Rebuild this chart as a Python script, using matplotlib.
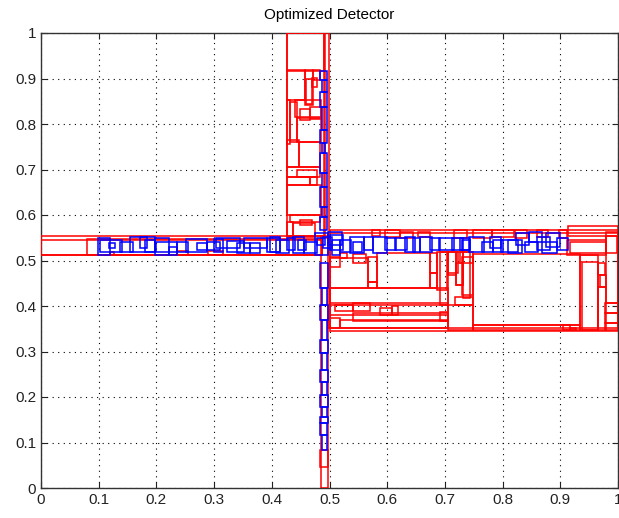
import matplotlib
matplotlib.use("Agg")
import matplotlib.pyplot as plt
from matplotlib.patches import Rectangle

plt.rcParams["font.family"] = ["Liberation Sans", "DejaVu Sans"]

# Detector cells as (x0, y0, x1, y1) in unit-square coordinates.

# Horizontal arm, red cells
band_red = [
    (0.000, 0.512, 0.487, 0.554),
    (0.000, 0.512, 0.487, 0.546),
    (0.080, 0.512, 0.487, 0.548),
    (0.120, 0.511, 0.127, 0.518),
    (0.235, 0.511, 0.255, 0.521),
    (0.289, 0.511, 0.315, 0.521),
]

# Horizontal arm, blue cells
band_blue = [
    (0.099, 0.512, 0.120, 0.549), (0.102, 0.519, 0.140, 0.545),
    (0.117, 0.527, 0.128, 0.538), (0.137, 0.518, 0.160, 0.541),
    (0.154, 0.518, 0.198, 0.552), (0.172, 0.527, 0.183, 0.552),
    (0.180, 0.519, 0.198, 0.545), (0.198, 0.511, 0.221, 0.550),
    (0.200, 0.518, 0.235, 0.541), (0.221, 0.512, 0.235, 0.530),
    (0.235, 0.519, 0.255, 0.541), (0.252, 0.518, 0.287, 0.547),
    (0.270, 0.523, 0.287, 0.538), (0.287, 0.523, 0.310, 0.541),
    (0.299, 0.519, 0.316, 0.547), (0.304, 0.527, 0.345, 0.549),
    (0.322, 0.518, 0.351, 0.543), (0.339, 0.516, 0.362, 0.538),
    (0.351, 0.527, 0.391, 0.549), (0.362, 0.516, 0.380, 0.538),
    (0.391, 0.518, 0.414, 0.549), (0.397, 0.519, 0.414, 0.552),
    (0.408, 0.516, 0.429, 0.545), (0.426, 0.523, 0.440, 0.549),
    (0.437, 0.516, 0.455, 0.552), (0.446, 0.523, 0.460, 0.545),
    (0.455, 0.516, 0.478, 0.541), (0.475, 0.512, 0.498, 0.560),
    (0.478, 0.534, 0.492, 0.549), (0.489, 0.527, 0.504, 0.552),
    (0.498, 0.534, 0.521, 0.563), (0.504, 0.512, 0.518, 0.545),
    (0.501, 0.523, 0.524, 0.556), (0.518, 0.519, 0.538, 0.545),
    (0.536, 0.516, 0.559, 0.552), (0.541, 0.519, 0.556, 0.541),
    (0.559, 0.523, 0.576, 0.552), (0.576, 0.516, 0.599, 0.552),
    (0.596, 0.523, 0.616, 0.549), (0.614, 0.523, 0.634, 0.549),
    (0.631, 0.519, 0.648, 0.552), (0.645, 0.519, 0.657, 0.549),
    (0.657, 0.519, 0.677, 0.552), (0.674, 0.523, 0.692, 0.549),
    (0.689, 0.523, 0.715, 0.549), (0.712, 0.523, 0.732, 0.549),
    (0.729, 0.523, 0.743, 0.545), (0.726, 0.523, 0.743, 0.549),
    (0.741, 0.519, 0.767, 0.552), (0.764, 0.519, 0.784, 0.541),
    (0.778, 0.527, 0.798, 0.552), (0.784, 0.519, 0.801, 0.545),
    (0.798, 0.519, 0.827, 0.545), (0.810, 0.516, 0.833, 0.545),
    (0.824, 0.534, 0.845, 0.560), (0.839, 0.519, 0.862, 0.541),
    (0.845, 0.541, 0.868, 0.563), (0.859, 0.523, 0.882, 0.552),
    (0.868, 0.516, 0.894, 0.541), (0.876, 0.530, 0.899, 0.560),
    (0.894, 0.523, 0.914, 0.549),
]

# Vertical arm, red cells
stem_red = [
    (0.426, 0.554, 0.490, 1.000),
    (0.492, 0.550, 0.499, 1.000),
    (0.486, 0.000, 0.498, 0.554),
    (0.426, 0.916, 0.490, 1.000),
    (0.427, 0.853, 0.458, 0.919),
    (0.458, 0.842, 0.472, 0.919),
    (0.460, 0.845, 0.469, 0.900),
    (0.469, 0.881, 0.478, 0.901),
    (0.472, 0.897, 0.484, 0.919),
    (0.427, 0.757, 0.432, 0.853),
    (0.432, 0.761, 0.443, 0.849),
    (0.440, 0.816, 0.486, 0.853),
    (0.449, 0.809, 0.466, 0.834),
    (0.466, 0.812, 0.486, 0.838),
    (0.443, 0.761, 0.486, 0.813),
    (0.427, 0.706, 0.448, 0.765),
    (0.448, 0.706, 0.484, 0.761),
    (0.427, 0.684, 0.484, 0.706),
    (0.443, 0.684, 0.478, 0.699),
    (0.427, 0.666, 0.466, 0.684),
    (0.466, 0.666, 0.478, 0.683),
    (0.427, 0.600, 0.486, 0.666),
    (0.432, 0.585, 0.484, 0.600),
    (0.427, 0.552, 0.437, 0.585),
    (0.437, 0.552, 0.475, 0.582),
    (0.449, 0.578, 0.470, 0.589),
    (0.484, 0.047, 0.498, 0.084),
]

# Vertical arm, blue cells
stem_blue = [
    (0.484, 0.897, 0.495, 0.917), (0.487, 0.871, 0.495, 0.897),
    (0.484, 0.838, 0.495, 0.871), (0.487, 0.787, 0.495, 0.838),
    (0.484, 0.758, 0.495, 0.787), (0.487, 0.736, 0.493, 0.758),
    (0.484, 0.692, 0.495, 0.736), (0.487, 0.662, 0.495, 0.692),
    (0.484, 0.618, 0.495, 0.662), (0.487, 0.596, 0.495, 0.618),
    (0.484, 0.567, 0.495, 0.596),
    (0.484, 0.439, 0.497, 0.494), (0.487, 0.402, 0.495, 0.439),
    (0.484, 0.369, 0.497, 0.402), (0.487, 0.325, 0.495, 0.369),
    (0.484, 0.296, 0.497, 0.325), (0.487, 0.259, 0.495, 0.296),
    (0.484, 0.234, 0.497, 0.259), (0.487, 0.204, 0.495, 0.234),
    (0.484, 0.179, 0.497, 0.204), (0.487, 0.157, 0.495, 0.179),
    (0.484, 0.142, 0.497, 0.157), (0.484, 0.116, 0.495, 0.142),
    (0.487, 0.084, 0.495, 0.116),
]

# Right block, red cells
right_red = [
    (0.501, 0.345, 1.000, 0.567),
    (0.501, 0.352, 1.000, 0.560),
    (0.913, 0.554, 1.000, 0.575),
    (0.573, 0.554, 0.588, 0.567),
    (0.596, 0.552, 0.622, 0.567),
    (0.622, 0.549, 0.645, 0.563),
    (0.654, 0.551, 0.674, 0.563),
    (0.715, 0.549, 0.738, 0.567),
    (0.749, 0.549, 0.781, 0.567),
    (0.781, 0.552, 0.819, 0.567),
    (0.822, 0.549, 0.842, 0.567),
    (0.859, 0.552, 0.879, 0.567),
    (0.897, 0.549, 0.911, 0.567),
    (0.917, 0.516, 0.980, 0.541),
    (0.980, 0.516, 0.998, 0.554),
    (0.911, 0.512, 0.980, 0.545),
    (0.501, 0.486, 0.518, 0.508),
    (0.518, 0.505, 0.530, 0.516),
    (0.541, 0.494, 0.564, 0.514),
    (0.501, 0.439, 0.567, 0.505),
    (0.567, 0.453, 0.582, 0.508),
    (0.567, 0.439, 0.582, 0.453),
    (0.583, 0.439, 0.674, 0.516),
    (0.674, 0.472, 0.686, 0.516),
    (0.674, 0.439, 0.686, 0.472),
    (0.686, 0.435, 0.703, 0.519),
    (0.706, 0.468, 0.720, 0.519),
    (0.720, 0.446, 0.732, 0.519),
    (0.732, 0.417, 0.743, 0.519),
    (0.501, 0.402, 0.706, 0.439),
    (0.501, 0.380, 0.706, 0.406),
    (0.510, 0.388, 0.541, 0.402),
    (0.541, 0.388, 0.570, 0.406),
    (0.588, 0.380, 0.608, 0.395),
    (0.608, 0.380, 0.619, 0.399),
    (0.541, 0.366, 0.706, 0.384),
    (0.518, 0.351, 0.706, 0.369),
    (0.498, 0.351, 0.518, 0.373),
    (0.749, 0.358, 0.934, 0.514),
    (0.749, 0.347, 0.934, 0.358),
    (0.905, 0.347, 0.917, 0.358),
    (0.917, 0.347, 0.928, 0.352),
    (0.934, 0.347, 0.966, 0.512),
    (0.937, 0.347, 0.966, 0.497),
    (0.966, 0.468, 0.977, 0.494),
    (0.968, 0.442, 0.979, 0.468),
    (0.966, 0.347, 0.980, 0.442),
    (0.980, 0.406, 1.000, 0.563),
    (0.977, 0.384, 1.000, 0.406),
    (0.977, 0.362, 1.000, 0.384),
    (0.977, 0.347, 1.000, 0.362),
    (0.692, 0.402, 0.706, 0.519),
    (0.706, 0.472, 0.723, 0.519),
    (0.720, 0.446, 0.732, 0.494),
    (0.729, 0.424, 0.749, 0.508),
    (0.718, 0.402, 0.749, 0.420),
    (0.726, 0.494, 0.749, 0.519),
    (0.706, 0.347, 0.749, 0.402),
    (0.692, 0.366, 0.706, 0.387),
]

ticks = [0, 0.1, 0.2, 0.3, 0.4, 0.5, 0.6, 0.7, 0.8, 0.9, 1]
tick_labels = ["0", "0.1", "0.2", "0.3", "0.4", "0.5", "0.6", "0.7", "0.8", "0.9", "1"]

fig = plt.figure(figsize=(6.19, 5.18), dpi=100)
ax = fig.add_axes([41 / 619, 30 / 518, 577 / 619, 455 / 518])


def draw_cells(cells, color):
    for x0, y0, x1, y1 in cells:
        ax.add_patch(Rectangle((x0, y0), x1 - x0, y1 - y0, fill=False,
                               edgecolor=color, linewidth=1.1, zorder=3))


for group in (band_red, stem_red, right_red):
    draw_cells(group, "#ff0000")
for group in (band_blue, stem_blue):
    draw_cells(group, "#0000ff")

ax.set_xlim(0, 1)
ax.set_ylim(0, 1)
ax.set_xticks(ticks)
ax.set_yticks(ticks)
ax.set_xticklabels(tick_labels)
ax.set_yticklabels(tick_labels)
ax.tick_params(direction="in", length=4, top=True, right=True,
               labelsize=11, colors="#222222")
ax.grid(True, color="black", linestyle=(0, (1, 4)), linewidth=0.8)
ax.set_axisbelow(True)
for sp in ax.spines.values():
    sp.set_color("#333333")
    sp.set_linewidth(1.0)
ax.set_title("Optimized Detector", fontsize=11, pad=10)

fig.savefig("out.png", dpi=100)
